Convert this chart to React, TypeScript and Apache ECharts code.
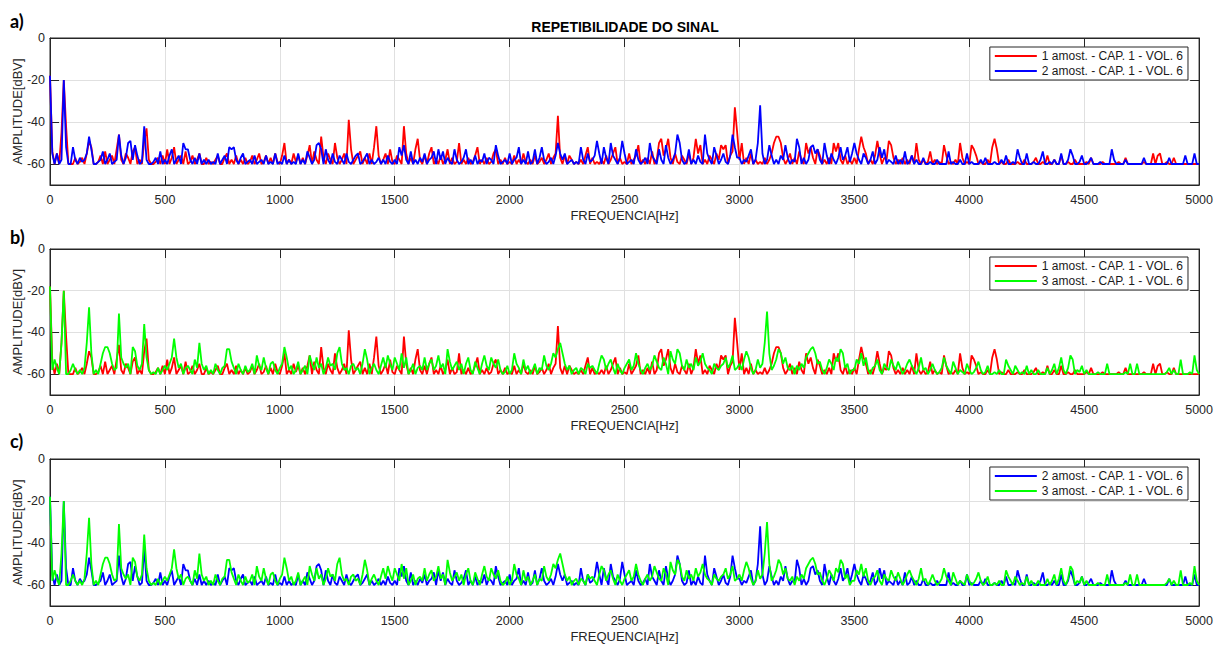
import React, { useEffect, useRef } from "react";
import * as echarts from "echarts";

// Frequency step of the sampled spectra (Hz); values start at 0 Hz and end at 5000 Hz
const FREQ_STEP = 10;

const NAME_1 = "1 amost. - CAP. 1 - VOL. 6";
const NAME_2 = "2 amost. - CAP. 1 - VOL. 6";
const NAME_3 = "3 amost. - CAP. 1 - VOL. 6";

const TITLE = "REPETIBILIDADE DO SINAL";
const X_NAME = "FREQUENCIA[Hz]";
const Y_NAME = "AMPLITUDE[dBV]";
const PANEL_LABELS = ["a)", "b)", "c)"];
const Y_TICKS = [-60, -40, -20, 0];

// Sample 1 (red), amplitude in dBV every 10 Hz
const S1: number[] = [
  -18, -54, -60, -55, -60, -45, -20, -42, -60, -60,
  -60, -57, -60, -59, -57, -60, -55, -49, -52, -60,
  -60, -59, -56, -60, -54, -60, -58, -56, -60, -53,
  -46, -58, -60, -55, -57, -60, -54, -52, -60, -58,
  -60, -49, -43, -58, -60, -60, -59, -57, -60, -56,
  -60, -53, -60, -57, -52, -60, -58, -56, -60, -54,
  -60, -59, -56, -60, -58, -55, -60, -60, -57, -60,
  -59, -60, -58, -56, -60, -60, -57, -55, -60, -58,
  -60, -56, -60, -58, -60, -57, -60, -59, -56, -60,
  -58, -55, -60, -59, -56, -60, -57, -60, -55, -59,
  -60, -56, -50, -60, -58, -60, -55, -59, -56, -60,
  -57, -60, -56, -51, -60, -54, -58, -60, -47, -57,
  -60, -55, -58, -60, -50, -57, -60, -58, -55, -60,
  -39, -53, -60, -58, -56, -54, -60, -57, -60, -55,
  -60, -52, -42, -56, -60, -58, -55, -60, -53, -59,
  -60, -56, -58, -60, -42, -55, -60, -57, -60, -53,
  -48, -58, -60, -56, -60, -55, -52, -60, -58, -60,
  -56, -60, -58, -53, -60, -57, -60, -59, -50, -60,
  -58, -60, -57, -60, -59, -56, -52, -60, -58, -60,
  -57, -60, -59, -55, -53, -60, -58, -60, -57, -60,
  -59, -60, -56, -60, -58, -60, -55, -59, -60, -58,
  -60, -56, -60, -59, -57, -60, -58, -55, -60, -57,
  -55, -37, -57, -60, -56, -60, -56, -58, -60, -59,
  -60, -58, -60, -56, -52, -60, -57, -60, -59, -60,
  -58, -60, -56, -60, -58, -55, -52, -60, -57, -60,
  -59, -60, -55, -60, -58, -56, -51, -60, -58, -60,
  -57, -60, -54, -60, -58, -50, -48, -56, -53, -48,
  -57, -60, -55, -59, -60, -56, -58, -60, -55, -60,
  -57, -48, -55, -51, -60, -58, -60, -56, -58, -60,
  -55, -58, -51, -53, -51, -60, -56, -54, -33, -45,
  -58, -50, -60, -57, -60, -55, -60, -58, -60, -59,
  -60, -57, -60, -58, -55, -50, -47, -47, -50, -57,
  -60, -58, -55, -60, -57, -60, -54, -58, -60, -50,
  -55, -52, -57, -60, -53, -56, -60, -58, -60, -57,
  -60, -50, -54, -50, -58, -60, -56, -60, -58, -60,
  -57, -60, -53, -47, -52, -55, -60, -58, -60, -56,
  -49, -55, -60, -57, -58, -49, -51, -57, -60, -58,
  -60, -57, -60, -58, -60, -56, -60, -50, -58, -60,
  -58, -60, -59, -54, -60, -58, -60, -59, -60, -51,
  -56, -60, -59, -60, -58, -60, -50, -57, -60, -59,
  -60, -51, -53, -56, -60, -59, -60, -60, -58, -60,
  -52, -48, -53, -60, -59, -60, -60, -58, -60, -60,
  -60, -59, -60, -60, -58, -60, -60, -60, -59, -57,
  -60, -60, -59, -60, -56, -60, -60, -58, -60, -60,
  -56, -60, -60, -59, -60, -60, -58, -60, -60, -60,
  -60, -59, -60, -57, -60, -60, -60, -60, -59, -60,
  -60, -60, -60, -60, -60, -59, -60, -60, -57, -60,
  -60, -60, -60, -60, -60, -60, -59, -60, -60, -60,
  -55, -60, -56, -55, -60, -60, -59, -60, -60, -57,
  -60, -60, -60, -60, -60, -60, -60, -60, -60, -60,
  -60,
];

// Sample 2 (blue)
const S2: number[] = [
  -18, -55, -60, -55, -60, -58, -20, -52, -60, -60,
  -52, -58, -60, -57, -59, -58, -55, -47, -53, -60,
  -60, -59, -58, -54, -60, -58, -55, -60, -59, -58,
  -46, -56, -60, -57, -50, -49, -58, -51, -56, -60,
  -59, -42, -58, -60, -60, -59, -57, -60, -54, -60,
  -58, -60, -56, -53, -60, -58, -56, -60, -50, -53,
  -53, -58, -60, -57, -60, -55, -60, -58, -60, -58,
  -60, -59, -60, -55, -60, -58, -56, -60, -52, -53,
  -52, -58, -60, -57, -55, -60, -59, -58, -60, -56,
  -60, -59, -58, -60, -56, -60, -59, -60, -55, -60,
  -59, -60, -56, -60, -58, -60, -59, -60, -55, -60,
  -58, -60, -54, -57, -60, -58, -51, -50, -53, -60,
  -53, -58, -60, -55, -59, -60, -56, -58, -60, -55,
  -59, -60, -58, -56, -55, -60, -59, -57, -55, -60,
  -58, -60, -59, -57, -60, -58, -60, -56, -59, -60,
  -58, -60, -52, -56, -51, -58, -60, -54, -60, -58,
  -60, -57, -59, -55, -60, -58, -57, -54, -60, -53,
  -58, -54, -60, -57, -59, -60, -53, -58, -60, -59,
  -57, -53, -60, -58, -60, -56, -60, -58, -59, -55,
  -60, -57, -58, -60, -51, -56, -60, -59, -58, -60,
  -55, -60, -58, -57, -52, -60, -58, -60, -54, -60,
  -59, -53, -60, -57, -52, -58, -60, -59, -57, -60,
  -56, -50, -55, -58, -55, -60, -59, -58, -60, -59,
  -60, -52, -58, -60, -55, -59, -58, -56, -49, -55,
  -60, -52, -57, -60, -50, -56, -58, -60, -57, -49,
  -55, -60, -59, -58, -60, -53, -58, -60, -59, -57,
  -60, -50, -56, -58, -60, -53, -58, -60, -51, -57,
  -60, -58, -55, -46, -50, -58, -60, -59, -53, -60,
  -58, -60, -56, -59, -60, -46, -55, -58, -60, -52,
  -56, -60, -58, -55, -59, -60, -56, -46, -52, -57,
  -57, -60, -58, -59, -56, -53, -60, -58, -50, -32,
  -55, -60, -58, -51, -56, -60, -58, -60, -56, -58,
  -51, -57, -60, -58, -59, -48, -52, -60, -57, -60,
  -58, -52, -51, -55, -53, -58, -60, -50, -56, -60,
  -55, -58, -60, -57, -52, -58, -56, -52, -59, -55,
  -50, -55, -58, -60, -55, -57, -60, -58, -54, -60,
  -58, -52, -57, -53, -60, -58, -59, -60, -56, -60,
  -58, -60, -54, -60, -59, -56, -60, -58, -60, -60,
  -57, -60, -60, -59, -60, -60, -58, -60, -60, -60,
  -60, -54, -60, -59, -60, -60, -58, -60, -60, -55,
  -60, -59, -60, -60, -60, -58, -60, -57, -60, -60,
  -60, -59, -60, -60, -58, -60, -56, -60, -60, -59,
  -60, -53, -57, -60, -60, -55, -60, -60, -59, -60,
  -60, -58, -54, -60, -60, -59, -60, -58, -60, -60,
  -55, -60, -60, -58, -53, -56, -60, -60, -59, -56,
  -60, -60, -59, -57, -60, -60, -60, -59, -60, -60,
  -60, -60, -53, -58, -60, -60, -60, -60, -58, -60,
  -60, -60, -60, -60, -60, -60, -57, -60, -60, -60,
  -60, -60, -60, -60, -60, -60, -60, -57, -60, -60,
  -60, -60, -60, -60, -56, -60, -60, -60, -55, -60,
  -60,
];

// Sample 3 (green)
const S3: number[] = [
  -18, -58, -53, -57, -60, -45, -20, -60, -60, -58,
  -55, -58, -60, -58, -60, -57, -45, -28, -50, -60,
  -58, -60, -55, -50, -47, -47, -50, -55, -58, -57,
  -31, -52, -55, -57, -55, -60, -47, -49, -56, -58,
  -55, -36, -52, -58, -60, -59, -60, -57, -60, -58,
  -56, -58, -55, -52, -43, -52, -57, -55, -60, -57,
  -56, -58, -60, -53, -57, -45, -55, -58, -56, -60,
  -58, -60, -55, -58, -60, -57, -56, -48, -48, -54,
  -57, -60, -55, -58, -60, -56, -59, -58, -55, -60,
  -51, -56, -58, -52, -57, -60, -55, -54, -58, -60,
  -57, -55, -47, -52, -58, -56, -60, -58, -54, -60,
  -58, -56, -60, -51, -55, -58, -52, -57, -55, -60,
  -57, -52, -56, -55, -58, -50, -47, -55, -58, -57,
  -60, -56, -55, -58, -57, -60, -55, -48, -53, -60,
  -57, -55, -58, -60, -56, -52, -57, -51, -55, -58,
  -52, -55, -58, -50, -57, -52, -60, -58, -55, -60,
  -57, -56, -58, -52, -58, -55, -53, -58, -56, -51,
  -57, -55, -60, -48, -54, -58, -56, -54, -58, -55,
  -60, -55, -52, -58, -60, -54, -57, -60, -55, -51,
  -56, -58, -52, -55, -57, -53, -58, -60, -59, -56,
  -60, -58, -50, -55, -57, -60, -53, -58, -56, -60,
  -58, -55, -60, -57, -58, -51, -56, -58, -55, -50,
  -52, -48, -45, -50, -55, -58, -56, -60, -58, -57,
  -60, -57, -58, -60, -55, -57, -56, -58, -60, -55,
  -51, -53, -58, -55, -53, -57, -60, -55, -58, -60,
  -57, -55, -53, -58, -56, -50, -55, -58, -60, -57,
  -55, -58, -56, -51, -54, -57, -58, -52, -55, -60,
  -49, -53, -55, -48, -50, -56, -58, -53, -57, -55,
  -58, -52, -56, -54, -50, -55, -57, -58, -60, -55,
  -57, -58, -56, -55, -52, -57, -55, -51, -58, -57,
  -55, -58, -53, -49, -52, -57, -60, -58, -53, -57,
  -55, -45, -30, -50, -58, -56, -53, -48, -50, -55,
  -52, -57, -58, -56, -60, -56, -58, -55, -57, -52,
  -50, -48, -47, -50, -55, -54, -58, -60, -57, -53,
  -55, -58, -52, -54, -48, -50, -57, -55, -60, -58,
  -58, -53, -55, -50, -56, -52, -58, -60, -57, -56,
  -53, -58, -60, -55, -57, -58, -53, -56, -58, -54,
  -57, -60, -58, -55, -53, -56, -58, -60, -57, -52,
  -58, -57, -60, -58, -55, -58, -60, -59, -57, -52,
  -56, -58, -60, -54, -57, -60, -58, -59, -60, -55,
  -58, -60, -59, -57, -54, -58, -60, -59, -56, -60,
  -60, -59, -60, -58, -60, -60, -53, -56, -58, -60,
  -56, -58, -60, -59, -60, -56, -60, -58, -60, -60,
  -58, -60, -60, -60, -57, -60, -58, -55, -60, -57,
  -52, -58, -60, -57, -51, -53, -60, -58, -59, -56,
  -60, -58, -60, -60, -60, -60, -59, -60, -60, -60,
  -55, -60, -60, -60, -60, -60, -60, -60, -59, -60,
  -55, -60, -60, -55, -60, -60, -60, -60, -60, -60,
  -60, -60, -60, -60, -60, -60, -59, -57, -60, -58,
  -60, -60, -53, -60, -60, -60, -59, -60, -51, -58,
  -60,
];

const RED = "#ff0000";
const BLUE = "#0000ff";
const GREEN = "#00ff00";

const FONT = "'Liberation Sans', Arial, Helvetica, sans-serif";
const AXIS_COLOR = "#262626";
const GRID_COLOR = "#e0e0e0";

const toPairs = (vals: number[]) => vals.map((v, i) => [i * FREQ_STEP, v]);

export default function App() {
  const ref = useRef<HTMLDivElement>(null);

  useEffect(() => {
    if (!ref.current) return;
    const chart = echarts.init(ref.current, undefined, { renderer: "svg" });

    const panels = [
      { top: 38, height: 147, series: [[NAME_1, S1, RED], [NAME_2, S2, BLUE]], labelY: 22, legendTop: 47 },
      { top: 249, height: 146, series: [[NAME_1, S1, RED], [NAME_3, S3, GREEN]], labelY: 238, legendTop: 257 },
      { top: 459, height: 147, series: [[NAME_2, S2, BLUE], [NAME_3, S3, GREEN]], labelY: 442, legendTop: 467 },
    ];

    const grid: any[] = [];
    const xAxis: any[] = [];
    const yAxis: any[] = [];
    const series: any[] = [];
    const legend: any[] = [];
    const graphic: any[] = [];

    panels.forEach((p, i) => {
      grid.push({
        left: 50,
        top: p.top,
        width: 1150,
        height: p.height,
        show: true,
        borderColor: AXIS_COLOR,
        borderWidth: 1,
        backgroundColor: "#ffffff",
      });
      // bottom x axis
      xAxis.push({
        gridIndex: i,
        type: "value",
        min: 0,
        max: 5000,
        interval: 500,
        name: X_NAME,
        nameLocation: "middle",
        nameGap: 24,
        nameTextStyle: { fontFamily: FONT, fontSize: 13, color: AXIS_COLOR },
        axisLine: { show: true, onZero: false, lineStyle: { color: AXIS_COLOR } },
        axisTick: { show: true, inside: true, length: 9, lineStyle: { color: AXIS_COLOR } },
        axisLabel: {
          fontFamily: FONT,
          fontSize: 12.5,
          color: AXIS_COLOR,
          margin: 8,
          formatter: (v: number) => String(v),
        },
        splitLine: { show: true, lineStyle: { color: GRID_COLOR, width: 1 } },
      });
      // top x axis (ticks only)
      xAxis.push({
        gridIndex: i,
        type: "value",
        position: "top",
        min: 0,
        max: 5000,
        interval: 500,
        axisLine: { show: true, onZero: false, lineStyle: { color: AXIS_COLOR } },
        axisTick: { show: true, inside: true, length: 9, lineStyle: { color: AXIS_COLOR } },
        axisLabel: { show: false },
        splitLine: { show: false },
      });
      // left y axis
      yAxis.push({
        gridIndex: i,
        type: "value",
        min: -70,
        max: 0,
        name: Y_NAME,
        nameLocation: "middle",
        nameGap: 26,
        nameMoveOverlap: false,
        nameRotate: 90,
        nameTextStyle: { fontFamily: FONT, fontSize: 13, color: AXIS_COLOR },
        axisLine: { show: true, onZero: false, lineStyle: { color: AXIS_COLOR } },
        axisTick: { show: true, inside: true, length: 9, customValues: Y_TICKS, lineStyle: { color: AXIS_COLOR } },
        axisLabel: { fontFamily: FONT, fontSize: 12.5, color: AXIS_COLOR, margin: 5, customValues: Y_TICKS },
        splitLine: { show: true, lineStyle: { color: GRID_COLOR, width: 1 } },
      });
      // right y axis (ticks only)
      yAxis.push({
        gridIndex: i,
        type: "value",
        position: "right",
        min: -70,
        max: 0,
        axisLine: { show: true, onZero: false, lineStyle: { color: AXIS_COLOR } },
        axisTick: { show: true, inside: true, length: 9, customValues: Y_TICKS, lineStyle: { color: AXIS_COLOR } },
        axisLabel: { show: false, customValues: Y_TICKS },
        splitLine: { show: false },
      });

      p.series.forEach(([name, vals, color]: any) => {
        series.push({
          type: "line",
          name,
          xAxisIndex: i * 2,
          yAxisIndex: i * 2,
          data: toPairs(vals),
          symbol: "none",
          showSymbol: false,
          lineStyle: { color, width: 1.8 },
          itemStyle: { color },
          emphasis: { disabled: true },
          z: 3,
        });
      });

      legend.push({
        orient: "vertical",
        right: 28,
        top: p.legendTop,
        data: p.series.map((s: any) => s[0]),
        itemWidth: 42,
        itemHeight: 12,
        itemGap: 3,
        padding: [3, 5, 3, 4],
        borderColor: AXIS_COLOR,
        borderWidth: 1,
        backgroundColor: "#ffffff",
        selectedMode: false,
        itemStyle: { opacity: 0 },
        textStyle: { fontFamily: FONT, fontSize: 12, color: "#1a1a1a" },
      });

      graphic.push({
        type: "text",
        left: 10,
        top: p.labelY - 10,
        style: {
          text: PANEL_LABELS[i],
          font: "bold 18px Lato, 'Open Sans', sans-serif",
          fill: "#000000",
        },
      });
    });

    graphic.push({
      type: "text",
      x: 625,
      y: 27,
      style: {
        text: TITLE,
        font: `bold 14px ${FONT}`,
        fill: "#000000",
        align: "center",
        verticalAlign: "middle",
      },
    });

    chart.setOption({
      animation: false,
      backgroundColor: "#ffffff",
      grid,
      xAxis,
      yAxis,
      series,
      legend,
      graphic,
    });

    return () => chart.dispose();
  }, []);

  return (
    <div
      ref={ref}
      style={{ position: "fixed", left: 0, top: 0, width: 1216, height: 646, background: "#fff" }}
    />
  );
}
